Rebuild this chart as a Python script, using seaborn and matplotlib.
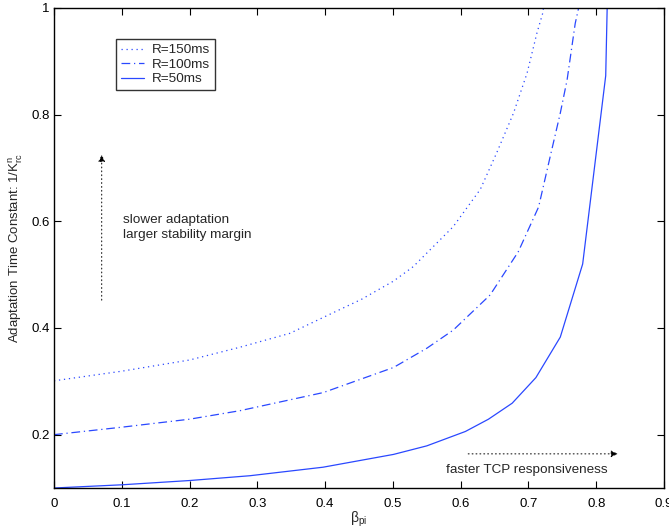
import matplotlib
matplotlib.use("Agg")
import matplotlib.pyplot as plt
import seaborn as sns
import pandas as pd
import numpy as np
from matplotlib.ticker import FixedLocator, FuncFormatter

# ---- data ----
beta_150 = [0, 0.1, 0.2, 0.2745, 0.348, 0.3975, 0.454, 0.501, 0.530, 0.589, 0.629, 0.653, 0.678, 0.698, 0.7125, 0.721, 0.728]
tau_150 = [0.301, 0.319, 0.340, 0.364, 0.390, 0.4200, 0.454, 0.488, 0.515, 0.590, 0.660, 0.728, 0.803, 0.878, 0.953, 0.99, 1.05]

beta_100 = [0, 0.1, 0.2, 0.2745, 0.3975, 0.501, 0.550, 0.589, 0.6435, 0.685, 0.715, 0.732, 0.747, 0.757, 0.769, 0.774, 0.778]
tau_100 = [0.200, 0.214, 0.229, 0.245, 0.279, 0.326, 0.362, 0.396, 0.462, 0.543, 0.627, 0.721, 0.803, 0.865, 0.971, 1.0, 1.05]

beta_50 = [0, 0.1, 0.2, 0.289, 0.397, 0.501, 0.550, 0.607, 0.641, 0.676, 0.711, 0.747, 0.780, 0.814, 0.817]
tau_50 = [0.100, 0.106, 0.114, 0.123, 0.139, 0.163, 0.179, 0.206, 0.229, 0.259, 0.307, 0.383, 0.520, 0.873, 1.05]

labels = ["R=150ms", "R=100ms", "R=50ms"]
x_ticks = [0, 0.1, 0.2, 0.3, 0.4, 0.5, 0.6, 0.7, 0.8, 0.9]
y_ticks = [0.2, 0.4, 0.6, 0.8, 1.0]

sns.set_style("ticks")
plt.rcParams["font.family"] = ["Liberation Sans", "DejaVu Sans"]
plt.rcParams["mathtext.fontset"] = "custom"
plt.rcParams["mathtext.rm"] = "Liberation Sans"
plt.rcParams["mathtext.it"] = "Liberation Sans:italic"
plt.rcParams["mathtext.bf"] = "Liberation Sans:bold"

fig = plt.figure(figsize=(6.69, 5.29), dpi=100)
ax = fig.add_axes([54 / 669, 1 - 488 / 529, 610 / 669, 480 / 529])

blue = "#2a48ff"
styles = [(0, (1, 3)), (0, (7, 3, 1, 3)), "-"]
series = [(beta_150, tau_150), (beta_100, tau_100), (beta_50, tau_50)]
for (bx, ty), lab, ls in zip(series, labels, styles):
    df = pd.DataFrame({"beta": bx, "tau": ty})
    sns.lineplot(data=df, x="beta", y="tau", ax=ax, color=blue, lw=0.9,
                 linestyle=ls, label=lab, sort=False, estimator=None)

ax.set_xlim(0, 0.9)
ax.set_ylim(0.1, 1.0)
ax.xaxis.set_major_locator(FixedLocator(x_ticks))
ax.yaxis.set_major_locator(FixedLocator(y_ticks))
fmt = FuncFormatter(lambda v, p: ("%g" % round(v, 2)))
ax.xaxis.set_major_formatter(fmt)
ax.yaxis.set_major_formatter(fmt)
ax.tick_params(direction="in", length=5, width=0.8, top=True, right=True,
               labelsize=9.5, colors="black")
ax.tick_params(axis="x", pad=7)
ax.tick_params(axis="y", pad=3)
for sp in ax.spines.values():
    sp.set_visible(True)
    sp.set_linewidth(1.0)
    sp.set_color("black")

ax.set_xlabel("β$_{\\rm pi}$", fontsize=10, labelpad=0)
ax.set_ylabel(r"Adaptation Time Constant: 1/K$^{\rm n}_{\rm rc}$", fontsize=9.5, labelpad=5)

leg = ax.legend(loc="upper left", bbox_to_anchor=(0.102, 0.935), borderaxespad=0,
                fontsize=9.7, frameon=True, fancybox=False, edgecolor="black",
                handlelength=1.7, handletextpad=0.6, labelspacing=0.15, borderpad=0.35)
leg.get_frame().set_linewidth(1.0)

# annotations
ax.annotate("", xy=(0.0704, 0.73), xytext=(0.0704, 0.447),
            arrowprops=dict(arrowstyle="-|>", linestyle=(0, (1, 3)), color="black",
                        lw=0.7, mutation_scale=10))
ax.text(0.102, 0.589, "slower adaptation\nlarger stability margin", fontsize=9.7,
        va="center", ha="left", linespacing=1.3)
ax.annotate("", xy=(0.836, 0.164), xytext=(0.607, 0.164),
            arrowprops=dict(arrowstyle="-|>", linestyle=(0, (1, 3)), color="black",
                        lw=0.7, mutation_scale=10))
ax.text(0.579, 0.134, "faster TCP responsiveness", fontsize=9.7, va="center", ha="left")

fig.savefig("out.png", dpi=100)
